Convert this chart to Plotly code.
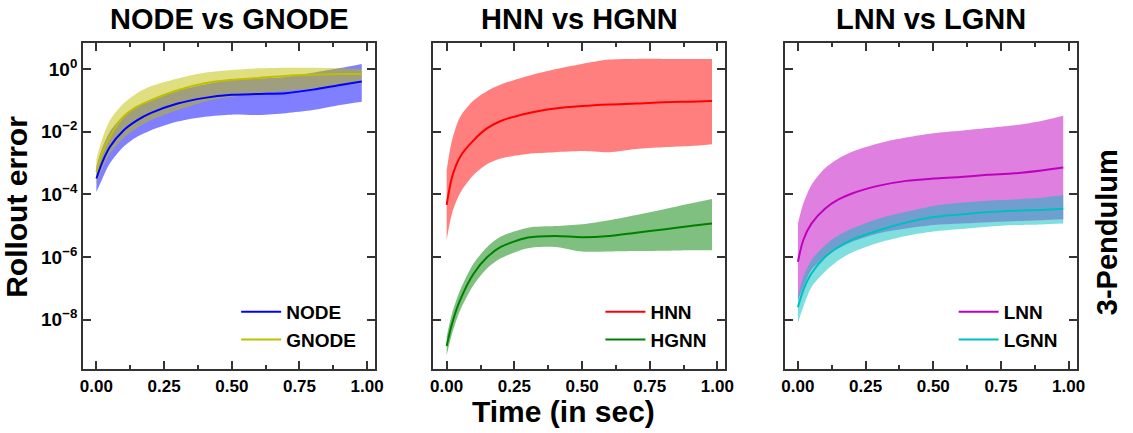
import plotly.graph_objects as go
from plotly.subplots import make_subplots

# time axis (s)
t = [0, 0.02, 0.05, 0.1, 0.15, 0.2, 0.3, 0.4, 0.5, 0.6, 0.7, 0.8, 0.9, 0.98]

# NODE vs GNODE
node_mean = [3.2e-4, 9.8e-4, 3.3e-3, 1.1e-2, 2.3e-2, 3.9e-2, 7.9e-2, 0.12, 0.15, 0.16, 0.17, 0.22, 0.31, 0.40]
node_upper = [7.9e-4, 2.8e-3, 1.0e-2, 3.2e-2, 6.3e-2, 0.10, 0.20, 0.32, 0.45, 0.50, 0.56, 0.76, 1.07, 1.45]
node_lower = [1.2e-4, 2.9e-4, 9.8e-4, 3.3e-3, 6.9e-3, 1.1e-2, 2.1e-2, 3.0e-2, 3.5e-2, 3.4e-2, 3.9e-2, 4.9e-2, 7.1e-2, 9.1e-2]
gnode_mean = [5.2e-4, 2.0e-3, 6.9e-3, 3.0e-2, 6.3e-2, 0.10, 0.21, 0.35, 0.45, 0.52, 0.60, 0.65, 0.69, 0.69]
gnode_upper = [1.3e-3, 5.4e-3, 2.3e-2, 7.9e-2, 0.17, 0.28, 0.50, 0.76, 0.93, 1.05, 1.10, 1.10, 1.05, 1.0]
gnode_lower = [2.2e-4, 6.0e-4, 2.0e-3, 6.2e-3, 1.3e-2, 2.3e-2, 4.9e-2, 9.1e-2, 0.13, 0.17, 0.20, 0.24, 0.31, 0.35]

# HNN vs HGNN
hnn_mean = [4.6e-5, 3.6e-4, 1.6e-3, 5.4e-3, 1.3e-2, 2.2e-2, 3.9e-2, 5.5e-2, 6.6e-2, 7.4e-2, 7.9e-2, 8.7e-2, 9.1e-2, 9.5e-2]
hnn_upper = [6.0e-4, 5.4e-3, 3.0e-2, 0.10, 0.20, 0.32, 0.60, 0.98, 1.45, 2.0, 2.1, 2.1, 2.1, 2.1]
hnn_lower = [3.5e-6, 2.5e-5, 1.1e-4, 4.2e-4, 9.3e-4, 1.4e-3, 1.95e-3, 2.2e-3, 2.4e-3, 2.2e-3, 2.8e-3, 3.2e-3, 3.5e-3, 4.0e-3]
hgnn_mean = [1.45e-9, 7.6e-9, 4.3e-8, 3.0e-7, 1.0e-6, 2.1e-6, 4.2e-6, 4.7e-6, 4.3e-6, 4.7e-6, 6.0e-6, 7.6e-6, 9.8e-6, 1.17e-5]
hgnn_upper = [2.9e-9, 1.6e-8, 8.9e-8, 6.3e-7, 2.1e-6, 4.5e-6, 8.7e-6, 9.8e-6, 1.12e-5, 1.5e-5, 2.2e-5, 3.3e-5, 5.1e-5, 7.1e-5]
hgnn_lower = [7.4e-10, 3.6e-9, 2.0e-8, 1.3e-7, 4.4e-7, 9.1e-7, 1.9e-6, 2.1e-6, 1.5e-6, 1.5e-6, 1.55e-6, 1.6e-6, 1.66e-6, 1.66e-6]

# LNN vs LGNN
lnn_mean = [7.1e-7, 3.5e-6, 1.17e-5, 3.5e-5, 6.9e-5, 1.07e-4, 1.9e-4, 2.7e-4, 3.2e-4, 3.6e-4, 4.2e-4, 4.7e-4, 5.8e-4, 7.2e-4]
lnn_upper = [1.17e-5, 5.1e-5, 2.0e-4, 6.8e-4, 1.4e-3, 2.3e-3, 4.3e-3, 6.5e-3, 8.9e-3, 1.07e-2, 1.3e-2, 1.6e-2, 2.2e-2, 3.2e-2]
lnn_lower = [4.3e-8, 1.1e-7, 3.9e-7, 1.0e-6, 1.9e-6, 3.1e-6, 5.8e-6, 8.1e-6, 1.05e-5, 1.17e-5, 1.3e-5, 1.4e-5, 1.5e-5, 1.6e-5]
lgnn_mean = [2.5e-8, 8.9e-8, 3.0e-7, 1.0e-6, 2.1e-6, 3.6e-6, 7.2e-6, 1.26e-5, 1.9e-5, 2.3e-5, 2.7e-5, 3.0e-5, 3.2e-5, 3.5e-5]
lgnn_upper = [5.4e-8, 2.3e-7, 7.9e-7, 2.4e-6, 5.0e-6, 8.1e-6, 1.7e-5, 2.8e-5, 4.3e-5, 5.4e-5, 6.3e-5, 6.9e-5, 7.8e-5, 9.5e-5]
lgnn_lower = [7.9e-9, 2.6e-8, 1.1e-7, 3.4e-7, 7.9e-7, 1.4e-6, 2.9e-6, 4.7e-6, 6.5e-6, 7.8e-6, 9.3e-6, 1.05e-5, 1.1e-5, 1.17e-5]

panel_titles = ['NODE vs GNODE', 'HNN vs HGNN', 'LNN vs LGNN']
ytick_vals = [1e-8, 1e-6, 1e-4, 1e-2, 1]
ytick_text = ['10<sup>\u22128</sup>', '10<sup>\u22126</sup>', '10<sup>\u22124</sup>', '10<sup>\u22122</sup>', '10<sup>0</sup>']
xtick_vals = [0, 0.25, 0.5, 0.75, 1.0]
xtick_text = ['0.00', '0.25', '0.50', '0.75', '1.00']

FONT = 'Liberation Sans'
AXIS = '#333333'

panels = [
    [('NODE', node_mean, node_upper, node_lower, '#0000ff', 'rgba(0,0,255,0.5)'),
     ('GNODE', gnode_mean, gnode_upper, gnode_lower, '#bfbf00', 'rgba(191,191,0,0.5)')],
    [('HNN', hnn_mean, hnn_upper, hnn_lower, '#ff0000', 'rgba(255,0,0,0.5)'),
     ('HGNN', hgnn_mean, hgnn_upper, hgnn_lower, '#008000', 'rgba(0,128,0,0.5)')],
    [('LNN', lnn_mean, lnn_upper, lnn_lower, '#bf00bf', 'rgba(191,0,191,0.5)'),
     ('LGNN', lgnn_mean, lgnn_upper, lgnn_lower, '#00bfbf', 'rgba(0,191,191,0.5)')],
]

x_domains = [[81 / 1133, 376 / 1133], [435 / 1133, 730 / 1133], [790 / 1133, 1085 / 1133]]
y_domain = [(433 - 369.3) / 433, (433 - 43.3) / 433]
legend_names = ['legend', 'legend2', 'legend3']


def main():
    fig = make_subplots(rows=1, cols=3, shared_yaxes=True)

    for col, models in enumerate(panels, start=1):
        # bands first, then the mean curves on top
        for name, mean, upper, lower, color, fill in models:
            fig.add_trace(go.Scatter(x=t, y=upper, mode='lines', line=dict(width=0, shape='spline', smoothing=0.8),
                                     showlegend=False, hoverinfo='skip'), row=1, col=col)
            fig.add_trace(go.Scatter(x=t, y=lower, mode='lines', line=dict(width=0, shape='spline', smoothing=0.8),
                                     fill='tonexty', fillcolor=fill, showlegend=False, hoverinfo='skip'),
                          row=1, col=col)
        for name, mean, upper, lower, color, fill in models:
            fig.add_trace(go.Scatter(x=t, y=mean, mode='lines', name=name,
                                     line=dict(color=color, width=2, shape='spline', smoothing=0.8),
                                     legend=legend_names[col - 1]), row=1, col=col)

    axis_common = dict(showline=True, linecolor=AXIS, linewidth=2, mirror='ticks', ticks='inside',
                       ticklen=8, tickwidth=2, tickcolor=AXIS, showgrid=False, zeroline=False)

    for i in range(3):
        fig.update_xaxes(axis_common, row=1, col=i + 1)
        fig.update_xaxes(domain=x_domains[i], range=[-0.049, 1.029], tickvals=xtick_vals, ticktext=xtick_text,
                         tickfont=dict(family=FONT, size=17, color='black', weight='bold'),
                         minor=dict(ticks='inside', ticklen=4, tickwidth=1.5, tickcolor=AXIS, dtick=0.125, tick0=0),
                         row=1, col=i + 1)
        fig.update_yaxes(axis_common, row=1, col=i + 1)
        fig.update_yaxes(type='log', range=[-9.58, 0.82], domain=y_domain, tickvals=ytick_vals,
                         ticktext=ytick_text, showticklabels=(i == 0),
                         tickfont=dict(family=FONT, size=19, color='black', weight='bold'), row=1, col=i + 1)

    annotations = []
    for i, title in enumerate(panel_titles):
        annotations.append(dict(text=title, x=sum(x_domains[i]) / 2, y=1 - 19 / 433, xref='paper', yref='paper',
                                showarrow=False, xanchor='center', yanchor='middle',
                                font=dict(family=FONT, size=29, color='black', weight='bold')))
    annotations.append(dict(text='Rollout error', x=13 / 1133, y=1 - 207 / 433, xref='paper', yref='paper',
                            showarrow=False, textangle=-90, xanchor='center', yanchor='middle',
                            font=dict(family=FONT, size=30, color='black', weight='bold')))
    annotations.append(dict(text='Time (in sec)', x=567 / 1133, y=1 - 411 / 433, xref='paper', yref='paper',
                            showarrow=False, xanchor='center', yanchor='middle',
                            font=dict(family=FONT, size=30, color='black', weight='bold')))
    annotations.append(dict(text='3-Pendulum', x=1116 / 1133, y=1 - 232 / 433, xref='paper', yref='paper',
                            showarrow=False, textangle=-90, xanchor='center', yanchor='middle',
                            font=dict(family=FONT, size=29, color='black', weight='bold')))

    legend_style = dict(xanchor='right', yanchor='bottom', bgcolor='rgba(0,0,0,0)', borderwidth=0,
                        traceorder='normal', itemwidth=40,
                        font=dict(family=FONT, size=19, color='black', weight='bold'))
    fig.update_layout(
        width=1133, height=433, autosize=False,
        margin=dict(l=0, r=0, t=0, b=0),
        paper_bgcolor='white', plot_bgcolor='white',
        annotations=annotations,
        legend=dict(legend_style, x=362 / 1133, y=(433 - 359) / 433),
        legend2=dict(legend_style, x=716 / 1133, y=(433 - 359) / 433),
        legend3=dict(legend_style, x=1071 / 1133, y=(433 - 359) / 433),
    )

    # page body margin would push the figure 8px off the window
    fig.write_html("out.html", config={'displayModeBar': False},
                   post_script="document.body.style.margin='0';")


if __name__ == "__main__":
    main()
